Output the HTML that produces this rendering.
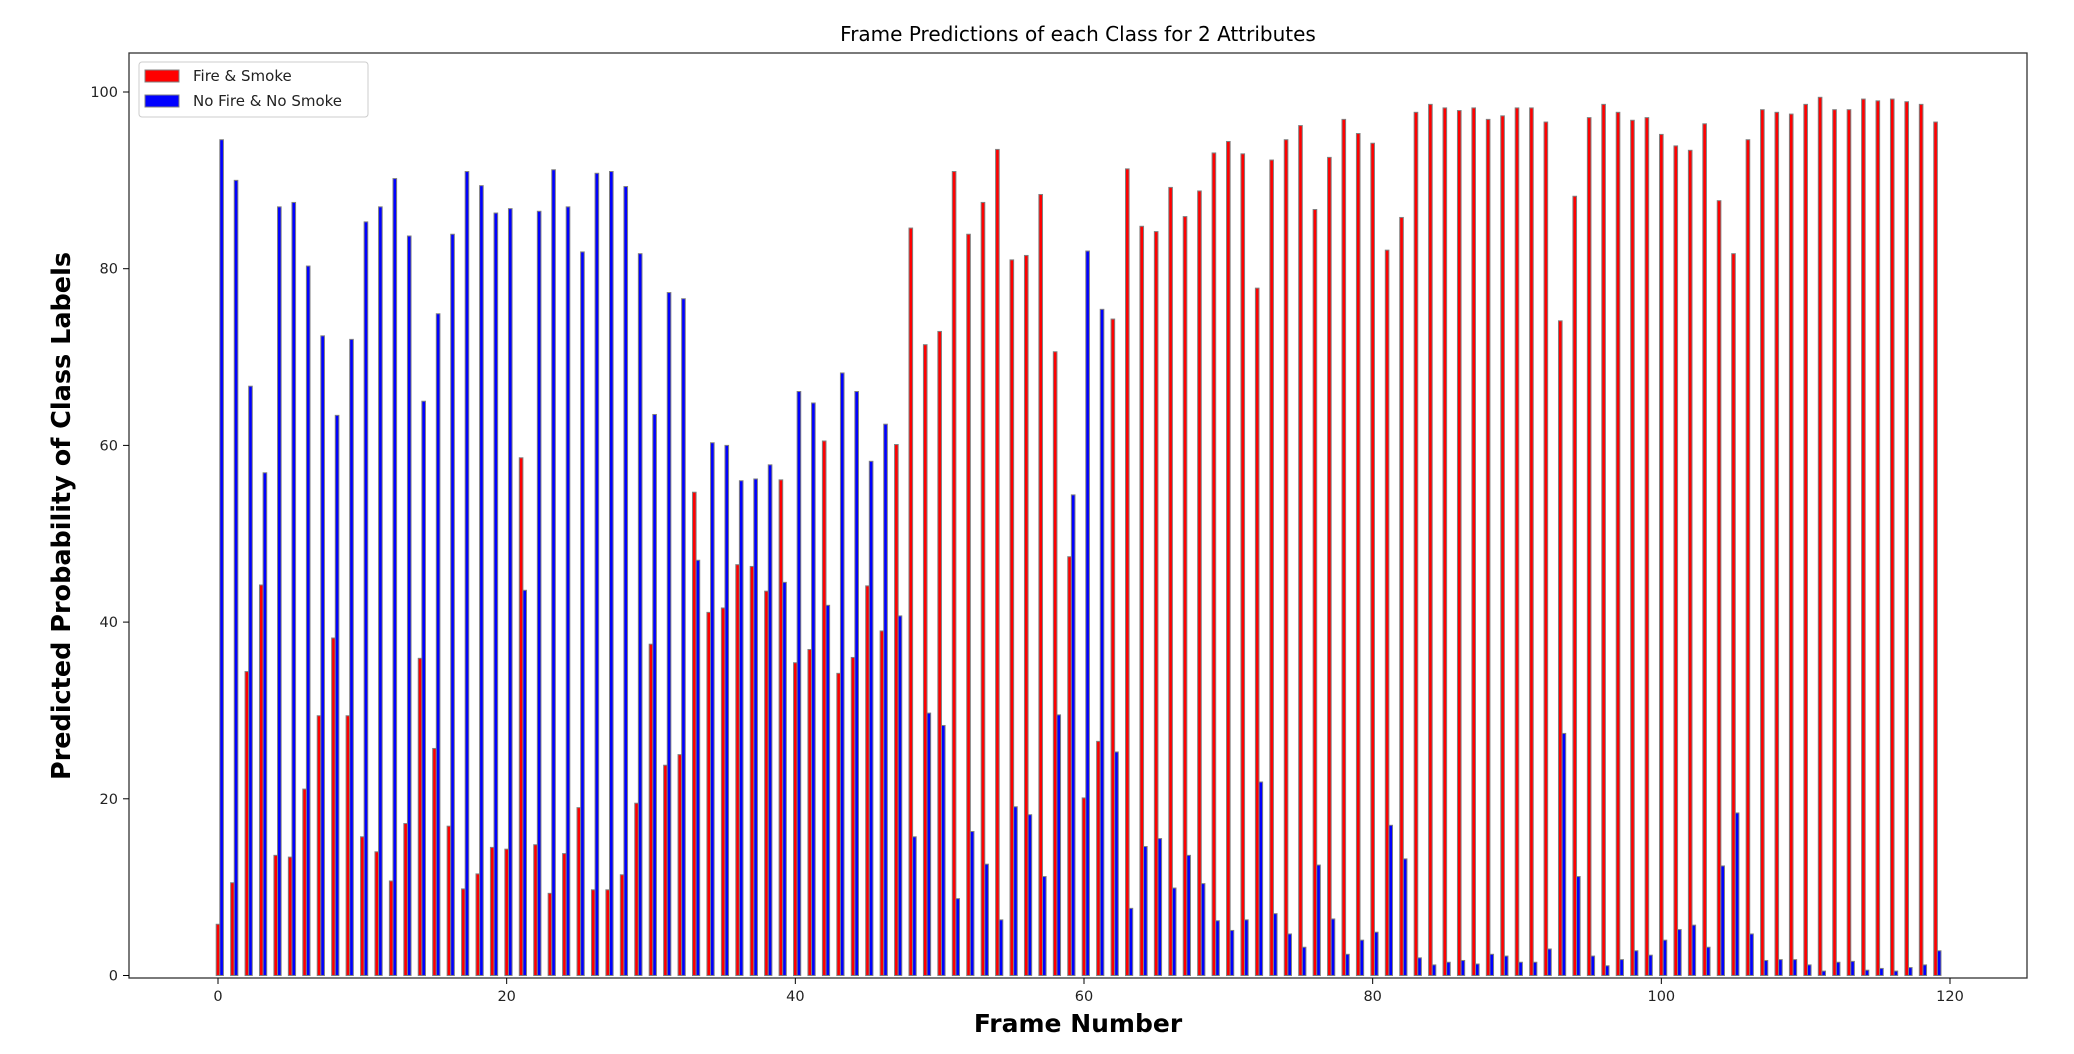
<!DOCTYPE html>
<html><head><meta charset="utf-8"><style>
html,body{margin:0;padding:0;background:#fff;}
svg{display:block;font-family:"DejaVu Sans","Liberation Sans",sans-serif;}
</style></head><body>
<svg id="chart" width="2074" height="1054" viewBox="0 0 2074 1054">
<rect x="0" y="0" width="2074" height="1054" fill="#fff"/>
<text x="1078" y="41" font-size="20" text-anchor="middle" fill="#000">Frame Predictions of each Class for 2 Attributes</text>
<g id="bars"></g>
<g id="axes"></g>
<text x="1078" y="1032" font-size="25" font-weight="bold" text-anchor="middle">Frame Number</text>
<text transform="translate(70,516) rotate(-90)" font-size="25.5" font-weight="bold" text-anchor="middle">Predicted Probability of Class Labels</text>
<g>
<rect x="139" y="62" width="229" height="55" rx="3" fill="#fff" stroke="#ccc" stroke-width="1"/>
<rect x="145" y="70" width="34" height="12" fill="#ff0000" stroke="#808080"/>
<text x="193" y="81" font-size="15" fill="#222">Fire &amp; Smoke</text>
<rect x="145" y="95" width="34" height="12" fill="#0000ff" stroke="#808080"/>
<text x="193" y="106" font-size="15" fill="#222">No Fire &amp; No Smoke</text>
</g>
</svg>
<script>
const fireValues=[5.8,10.5,34.4,44.2,13.6,13.4,21.1,29.4,38.2,29.4,15.7,14,10.7,17.2,35.9,25.7,16.9,9.8,11.5,14.5,14.3,58.6,14.8,9.3,13.8,19,9.7,9.7,11.4,19.5,37.5,23.8,25,54.7,41.1,41.6,46.5,46.3,43.5,56.1,35.4,36.9,60.5,34.2,36,44.1,39,60.1,84.6,71.4,72.9,91,83.9,87.5,93.5,81,81.5,88.4,70.6,47.4,20.1,26.5,74.3,91.3,84.8,84.2,89.2,85.9,88.8,93.1,94.4,93,77.8,92.3,94.6,96.2,86.7,92.6,96.9,95.3,94.2,82.1,85.8,97.7,98.6,98.2,97.9,98.2,96.9,97.3,98.2,98.2,96.6,74.1,88.2,97.1,98.6,97.7,96.8,97.1,95.2,93.9,93.4,96.4,87.7,81.7,94.6,98,97.7,97.5,98.6,99.4,98,98,99.2,99,99.2,98.9,98.6,96.6];
const noFireValues=[94.6,90,66.7,56.9,87,87.5,80.3,72.4,63.4,72,85.3,87,90.2,83.7,65,74.9,83.9,91,89.4,86.3,86.8,43.6,86.5,91.2,87,81.9,90.8,91,89.3,81.7,63.5,77.3,76.6,47,60.3,60,56,56.2,57.8,44.5,66.1,64.8,41.9,68.2,66.1,58.2,62.4,40.7,15.7,29.7,28.3,8.7,16.3,12.6,6.3,19.1,18.2,11.2,29.5,54.4,82,75.4,25.3,7.6,14.6,15.5,9.9,13.6,10.4,6.2,5.1,6.3,21.9,7,4.7,3.2,12.5,6.4,2.4,4,4.9,17,13.2,2,1.2,1.5,1.7,1.3,2.4,2.2,1.5,1.5,3,27.4,11.2,2.2,1.1,1.8,2.8,2.3,4,5.2,5.7,3.2,12.4,18.4,4.7,1.7,1.8,1.8,1.2,0.5,1.5,1.6,0.6,0.8,0.5,0.9,1.2,2.8];
const xTicks=[0,20,40,60,80,100,120];
const yTicks=[0,20,40,60,80,100];

const NS="http://www.w3.org/2000/svg";
const L=129,R=2027,T=53,B=978;
const X0=218,XPU=(1950-218)/120;
const Y0=975.5,YPU=8.835;
function xs(v){return X0+v*XPU;}
function ys(v){return Y0-v*YPU;}
function mk(tag,attrs,parent){const e=document.createElementNS(NS,tag);for(const k in attrs)e.setAttribute(k,attrs[k]);parent.appendChild(e);return e;}
const bars=document.getElementById('bars');
const axes=document.getElementById('axes');
const bw=0.25;
fireValues.forEach((v,i)=>{
  const x=xs(i-bw/2);
  const r=mk('rect',{x:x,y:ys(v),width:bw*XPU,height:ys(0)-ys(v),fill:'#ff0000',stroke:'#808080','stroke-width':1},bars);
  
  
});
noFireValues.forEach((v,i)=>{
  const x=xs(i+bw/2);
  const r=mk('rect',{x:x,y:ys(v),width:bw*XPU,height:ys(0)-ys(v),fill:'#0000ff',stroke:'#808080','stroke-width':1},bars);
  
  
});
const frame=mk('rect',{x:L,y:T,width:R-L,height:B-T,fill:'none',stroke:'#333','stroke-width':1.3},axes);


xTicks.forEach(t=>{
  const x=xs(t);
  mk('line',{x1:x,x2:x,y1:B,y2:B+6,stroke:'#000'},axes);
  const tx=mk('text',{x:x,y:B+23,'font-size':14.5,'text-anchor':'middle','fill':'#222'},axes);
  tx.textContent=t;
  
  
});
yTicks.forEach(t=>{
  const y=ys(t);
  mk('line',{x1:L-6,x2:L,y1:y,y2:y,stroke:'#000'},axes);
  const tx=mk('text',{x:L-11,y:y+5,'font-size':14.5,'text-anchor':'end','fill':'#222'},axes);
  tx.textContent=t;
  
  
});
</script>
</body></html>
